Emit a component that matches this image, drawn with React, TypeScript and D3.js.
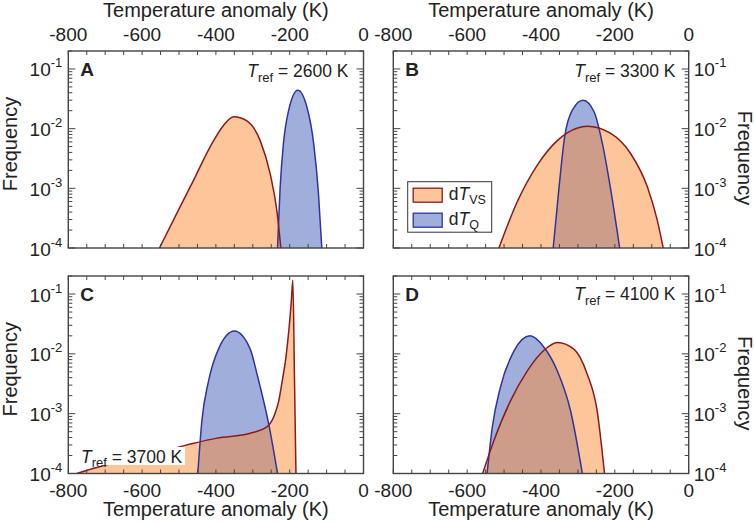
import React from 'react';
import * as d3 from 'd3';

type Pt = [number, number];

// [temperature anomaly (K), frequency]
const tvsA: Pt[] = [[-553, 1e-4], [-506, 3.8e-4], [-461, 1.35e-3], [-416, 4.9e-3], [-380, 1.12e-2], [-352, 1.58e-2], [-316, 1.35e-2], [-280, 6.3e-3], [-253, 1.76e-3], [-235, 4.3e-4], [-224, 1e-4]];
const tqA: Pt[] = [[-233, 1e-4], [-226, 1.0e-3], [-217, 5.6e-3], [-203, 2.0e-2], [-178, 4.4e-2], [-153, 2.26e-2], [-135, 5.6e-3], [-122, 8.1e-4], [-113, 1e-4]];

const tvsB: Pt[] = [[-514, 1e-4], [-464, 6.0e-4], [-410, 2.45e-3], [-356, 6.3e-3], [-329, 8.5e-3], [-275, 1.1e-2], [-211, 8.3e-3], [-157, 3.8e-3], [-112, 1.06e-3], [-85, 2.9e-4], [-69, 1e-4]];
const tqB: Pt[] = [[-367, 1e-4], [-351, 1.06e-3], [-336, 7.3e-3], [-315, 2.05e-2], [-286, 3.0e-2], [-256, 1.9e-2], [-234, 5.7e-3], [-211, 9.3e-4], [-187, 1e-4]];

const tvsC: Pt[] = [[-777, 1e-4], [-723, 1.26e-4], [-624, 1.78e-4], [-483, 2.95e-4], [-397, 3.9e-4], [-307, 4.7e-4], [-262, 6.0e-4], [-240, 1.0e-3], [-230, 1.6e-3], [-221, 3.3e-3], [-210, 9e-3], [-202, 2.6e-2], [-196, 7e-2], [-191.5, 0.17], [-187, 3.7e-3], [-183, 1e-4]];
const tqC: Pt[] = [[-449, 1e-4], [-438, 7.6e-4], [-420, 3.5e-3], [-393, 1.2e-2], [-350, 2.4e-2], [-307, 1.2e-2], [-287, 4.2e-3], [-256, 6.3e-4], [-233, 1e-4]];

const tvsD: Pt[] = [[-558, 1e-4], [-528, 3.5e-4], [-483, 1.62e-3], [-437, 5.2e-3], [-392, 1.15e-2], [-356, 1.55e-2], [-311, 1.2e-2], [-275, 4.6e-3], [-248, 1.12e-3], [-228, 1e-4]];
const tqD: Pt[] = [[-546, 1e-4], [-532, 5.9e-4], [-510, 2.75e-3], [-473, 1.12e-2], [-430, 2.0e-2], [-392, 1.29e-2], [-356, 5.2e-3], [-320, 1.12e-3], [-288, 1e-4]];

const xLabelTicks = [-800, -600, -400, -200, 0];
const yLabelTicks = [1e-4, 1e-3, 1e-2, 1e-1];
const yExponents = ['-4', '-3', '-2', '-1'];
const panelLetters = ['A', 'B', 'C', 'D'];
const trefValues = ['2600', '3300', '3700', '4100'];
const legendNames = ['VS', 'Q'];

const FONT = '"Liberation Sans", Arial, Helvetica, sans-serif';
const ORANGE_FILL = 'rgba(251,139,53,0.5)';
const ORANGE_SWATCH = '#fdc59a';
const BLUE_FILL = '#a0aedc';
const RED_LINE = '#8b1a1a';
const BLUE_LINE = '#2b35a0';
const FRAME = '#444';
const INK = '#222';

const Panel = ({ idx, x0, x1, y0, y1, tvs, tq, top, right, tref }) => {
  const x = d3.scaleLinear().domain([-800, 0]).range([x0, x1]);
  const y = d3.scaleLog().domain([1e-4, 0.2]).range([y1, y0]);
  const area = d3.area<Pt>().x(d => x(d[0])).y0(y1 + 3).y1(d => y(d[1])).curve(d3.curveMonotoneX);
  const line = d3.line<Pt>().x(d => x(d[0])).y(d => y(d[1])).curve(d3.curveMonotoneX);
  const clip = `clip-${panelLetters[idx]}`;
  const xTicks = x.ticks(16);
  const yTicks = y.ticks();

  return (
    <g fontFamily={FONT} fill={INK}>
      <clipPath id={clip}>
        <rect x={x0} y={y0} width={x1 - x0} height={y1 - y0} />
      </clipPath>
      <g clipPath={`url(#${clip})`}>
        <path d={area(tq)} fill={BLUE_FILL} />
        <path d={area(tvs)} fill={ORANGE_FILL} />
        <path d={line(tq)} fill="none" stroke={BLUE_LINE} strokeWidth={1.5} />
        <path d={line(tvs)} fill="none" stroke={RED_LINE} strokeWidth={1.5} />
      </g>

      {/* ticks on all four sides, pointing inward */}
      <g stroke={FRAME} strokeWidth={1}>
        {xTicks.map(t => (
          <g key={`xt${t}`}>
            <line x1={x(t)} x2={x(t)} y1={y0} y2={y0 + 4} />
            <line x1={x(t)} x2={x(t)} y1={y1} y2={y1 - 4} />
          </g>
        ))}
        {yTicks.map(t => {
          const len = yLabelTicks.includes(t) ? 7 : 4;
          return (
            <g key={`yt${t}`}>
              <line x1={x0} x2={x0 + len} y1={y(t)} y2={y(t)} />
              <line x1={x1} x2={x1 - len} y1={y(t)} y2={y(t)} />
            </g>
          );
        })}
      </g>
      <rect x={x0} y={y0} width={x1 - x0} height={y1 - y0} fill="none" stroke={FRAME} strokeWidth={1.4} />

      {/* x tick labels and title */}
      {xLabelTicks.map(t => (
        <text key={`xl${t}`} x={x(t)} y={top ? 41 : 496.5} textAnchor="middle" fontSize={19}>{t}</text>
      ))}
      <text x={(x0 + x1) / 2} y={top ? 16.5 : 515.5} textAnchor="middle" fontSize={20}>Temperature anomaly (K)</text>

      {/* y tick labels */}
      {yLabelTicks.map((t, i) => (
        <text key={`yl${t}`} x={right ? x1 + 5 : x0 - 6} y={y(t) + 7.5} textAnchor={right ? 'start' : 'end'} fontSize={19}>
          10<tspan fontSize={13} dy={-9}>{yExponents[i]}</tspan>
        </text>
      ))}
      <text
        transform={right ? `translate(738,${(y0 + y1) / 2 + 8.5}) rotate(90)` : `translate(17,${(y0 + y1) / 2 - 5.5}) rotate(-90)`}
        textAnchor="middle" fontSize={20}>Frequency</text>

      <text x={x0 + 12} y={y0 + 24.5} fontSize={19} fontWeight="bold">{panelLetters[idx]}</text>

      {tref.anchor === 'start' && <rect x={tref.x - 1} y={tref.y - 15.5} width={105} height={18} fill="#fff" />}
      <text x={tref.x} y={tref.y} textAnchor={tref.anchor} fontSize={17.5}>
        <tspan fontStyle="italic">T</tspan>
        <tspan fontSize={13} dy={4.5}>ref</tspan>
        <tspan dy={-4.5}>{` = ${trefValues[idx]} K`}</tspan>
      </text>
    </g>
  );
};

const Legend = ({ x, y }) => (
  <g fontFamily={FONT} fill={INK}>
    <rect x={x} y={y} width={84} height={50.5} fill="#fff" stroke="#333" strokeWidth={1} />
    {legendNames.map((name, i) => (
      <g key={name}>
        <rect x={x + 5.5} y={y + 6.5 + i * 25} width={29} height={14}
          fill={i === 0 ? ORANGE_SWATCH : BLUE_FILL} stroke={i === 0 ? RED_LINE : BLUE_LINE} strokeWidth={1.3} />
        <text x={x + 41} y={y + 18.5 + i * 25} fontSize={17.5}>
          d<tspan fontStyle="italic">T</tspan>
          <tspan fontSize={12.5} dy={4}>{name}</tspan>
        </text>
      </g>
    ))}
  </g>
);

const App = () => (
  <svg width={754} height={522} style={{ position: 'absolute', left: 0, top: 0, background: '#fff' }}>
    <Panel idx={0} x0={68.3} x1={363.5} y0={51} y1={248} tvs={tvsA} tq={tqA} top right={false}
      tref={{ x: 348.5, y: 77, anchor: 'end' }} />
    <Panel idx={1} x0={393.3} x1={688.7} y0={51} y1={248} tvs={tvsB} tq={tqB} top right
      tref={{ x: 675.5, y: 77, anchor: 'end' }} />
    <Panel idx={2} x0={68.3} x1={363.5} y0={276} y1={473.5} tvs={tvsC} tq={tqC} top={false} right={false}
      tref={{ x: 81, y: 462.5, anchor: 'start' }} />
    <Panel idx={3} x0={393.3} x1={688.7} y0={276} y1={473.5} tvs={tvsD} tq={tqD} top={false} right
      tref={{ x: 675.5, y: 300, anchor: 'end' }} />
    <Legend x={407.7} y={181.7} />
  </svg>
);

export default App;
